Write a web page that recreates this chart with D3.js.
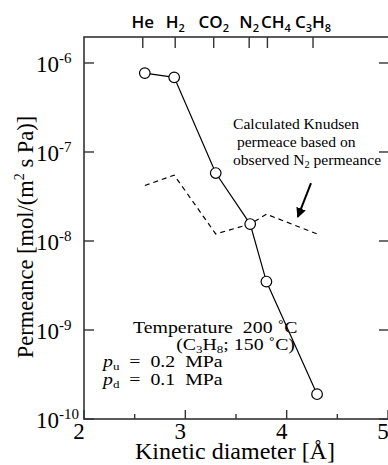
<!DOCTYPE html>
<head>
<meta charset="utf-8">
<style>
body{
    margin:0;
    background:#fff;
}
svg text{ font-family:"Liberation Serif","Times New Roman",serif; fill:#000; white-space:pre; }
.gas{ font-family:"Open Sans",sans-serif; font-weight:600; }
</style>
<title>Permeance vs kinetic diameter</title>
</head>
<body>
<svg width="388" height="465"></svg>
<script src="https://d3js.org/d3.v7.min.js"></script>
<script>
// gases, kinetic diameters [A]
var gases = ['He', 'H2', 'CO2', 'N2', 'CH4', 'C3H8'];
var gasLabels = [['He',''], ['H','2'], ['CO','2'], ['N','2'], ['CH','4'], ['C','3','H','8']];
var gasTicks = [2.58, 2.9, 3.28, 3.63, 3.81, 4.26];
var diameter = [2.6, 2.89, 3.3, 3.64, 3.8, 4.3];
// observed permeance
var permeance = [7.7e-7, 6.9e-7, 5.8e-8, 1.55e-8, 3.5e-9, 1.9e-10];
// calculated Knudsen permeance
var knudsenX = [2.6, 2.89, 3.3, 3.64, 3.8, 4.3];
var knudsen = [4.2e-8, 5.5e-8, 1.2e-8, 1.55e-8, 2.0e-8, 1.2e-8];
var xTicks = [2, 3, 4, 5];
var xMinor = [2.5, 3.5, 4.5];
var yTicks = [-6, -7, -8, -9, -10];

var svg = d3.select("svg");
var L = 84, R = 388, T = 37, B = 419;

var x = d3.scaleLinear().domain([2, 5]).range([L, R]);
var y = d3.scaleLog().domain([1e-10, Math.pow(10, -5.708)]).range([B, T]);

var axisCol = "#333";

// frame (right edge sits just off the canvas)
svg.append("rect").attr("x", L).attr("y", T).attr("width", R - L + 2).attr("height", B - T)
    .attr("fill", "none").attr("stroke", axisCol).attr("stroke-width", 1.6);

// y ticks, both sides, inward
yTicks.forEach(function(e){
    var yy = y(Math.pow(10, e));
    svg.append("line").attr("x1", L).attr("x2", L + 10).attr("y1", yy).attr("y2", yy)
        .attr("stroke", axisCol).attr("stroke-width", 1.4);
    svg.append("line").attr("x1", R - 9).attr("x2", R).attr("y1", yy).attr("y2", yy)
        .attr("stroke", axisCol).attr("stroke-width", 1.4);
    var t = svg.append("text").attr("x", 36).attr("y", yy + 9).attr("font-size", 23);
    t.append("tspan").text("10");
    t.append("tspan").attr("dy", -9).attr("font-size", 15).text("-" + (-e));
});

// x ticks
xTicks.forEach(function(v){
    svg.append("line").attr("x1", x(v)).attr("x2", x(v)).attr("y1", B).attr("y2", B - 9)
        .attr("stroke", axisCol).attr("stroke-width", 1.4);
    svg.append("text").attr("x", x(v) - 5).attr("y", 439).attr("font-size", 23)
        .attr("text-anchor", "middle").text(v);
});
xMinor.forEach(function(v){
    svg.append("line").attr("x1", x(v)).attr("x2", x(v)).attr("y1", B).attr("y2", B - 5)
        .attr("stroke", axisCol).attr("stroke-width", 1.4);
});

// top ticks (gases)
var prevEnd = -1e9;
gasTicks.forEach(function(v, i){
    svg.append("line").attr("x1", x(v)).attr("x2", x(v)).attr("y1", T).attr("y2", T + 11)
        .attr("stroke", axisCol).attr("stroke-width", 1.4);
    var t = svg.append("text").attr("class", "gas").attr("y", 28).attr("font-size", 17);
    gasLabels[i].forEach(function(p, k){
        var s = t.append("tspan").text(p);
        if (k % 2 == 1) s.attr("font-size", 11).attr("dy", 4);
        else if (k > 0) s.attr("dy", -4);
    });
    var w = t.node().getComputedTextLength();
    var xs = Math.max(x(v) - w / 2, prevEnd + 2);
    t.attr("x", xs);
    prevEnd = xs + w;
});

// axis titles
var yt = svg.append("text").attr("transform", "translate(33,237) rotate(-90)")
    .attr("text-anchor", "middle").attr("font-size", 22.5);
yt.append("tspan").text("Permeance [mol/(m");
yt.append("tspan").attr("font-size", 14).attr("dy", -9).text("2");
yt.append("tspan").attr("dy", 9).text(" s Pa)]");

svg.append("text").attr("x", 235).attr("y", 459).attr("text-anchor", "middle")
    .attr("font-size", 24).text("Kinetic diameter [Å]");

// Knudsen dashed line
var kl = d3.line().x(function(d){ return x(d[0]); }).y(function(d){ return y(d[1]); });
svg.append("path").datum(d3.zip(knudsenX, knudsen)).attr("d", kl)
    .attr("fill", "none").attr("stroke", "#000").attr("stroke-width", 1.2)
    .attr("stroke-dasharray", "5,4");

// observed line + markers
svg.append("path").datum(d3.zip(diameter, permeance)).attr("d", kl)
    .attr("fill", "none").attr("stroke", "#000").attr("stroke-width", 1.2);
svg.selectAll("circle.obs").data(d3.zip(diameter, permeance)).enter().append("circle")
    .attr("class", "obs").attr("cx", function(d){ return x(d[0]); })
    .attr("cy", function(d){ return y(d[1]); }).attr("r", 5.3)
    .attr("fill", "#fff").attr("stroke", "#000").attr("stroke-width", 1.2);

// stretched text block helper
function block(x0, y0, sx){
    return svg.append("g").attr("transform", "translate(" + x0 + "," + y0 + ") scale(" + sx + ",1)");
}

// annotation
var ag = block(233, 0, 1.04);
var ann = ag.append("text").attr("font-size", 15);
ann.append("tspan").attr("x", 0).attr("y", 129).text("Calculated Knudsen");
ann.append("tspan").attr("x", 0).attr("y", 147).text(" permeace based on");
ann.append("tspan").attr("x", 0).attr("y", 165).text("observed N");
ann.append("tspan").attr("font-size", 10).attr("dy", 3).text("2");
ann.append("tspan").attr("dy", -3).text(" permeance");

// arrow
svg.append("defs").append("marker").attr("id", "ah").attr("viewBox", "0 0 10 10")
    .attr("refX", 9).attr("refY", 5).attr("markerWidth", 5).attr("markerHeight", 5)
    .attr("orient", "auto")
    .append("path").attr("d", "M0,0 L10,5 L0,10 z").attr("fill", "#000");
svg.append("line").attr("x1", x(4.24)).attr("y1", y(Math.pow(10, -7.35)))
    .attr("x2", x(4.11)).attr("y2", y(Math.pow(10, -7.73)))
    .attr("stroke", "#000").attr("stroke-width", 2).attr("marker-end", "url(#ah)");

// conditions
var sx = 1.24;
var cg = block(0, 0, sx);
var fs = 16;
cg.append("text").attr("font-size", fs).attr("x", 133 / sx).attr("y", 333)
    .text("Temperature  200 ˚C");
var c2 = cg.append("text").attr("font-size", fs).attr("x", 295 / sx).attr("y", 350)
    .attr("text-anchor", "end");
c2.append("tspan").text("(C");
c2.append("tspan").attr("font-size", 10.5).attr("dy", 3).text("3");
c2.append("tspan").attr("dy", -3).text("H");
c2.append("tspan").attr("font-size", 10.5).attr("dy", 3).text("8");
c2.append("tspan").attr("dy", -3).text("; 150 ˚C)");
[["u", "0.2", 367], ["d", "0.1", 385]].forEach(function(p){
    var t = cg.append("text").attr("x", 103 / sx).attr("y", p[2]).attr("font-size", fs);
    t.append("tspan").attr("font-style", "italic").text("p");
    t.append("tspan").attr("font-size", 10.5).attr("dy", 3).text(p[0]);
    t.append("tspan").attr("dy", -3).text("  =  " + p[1] + "  MPa");
});
</script>
</body>
